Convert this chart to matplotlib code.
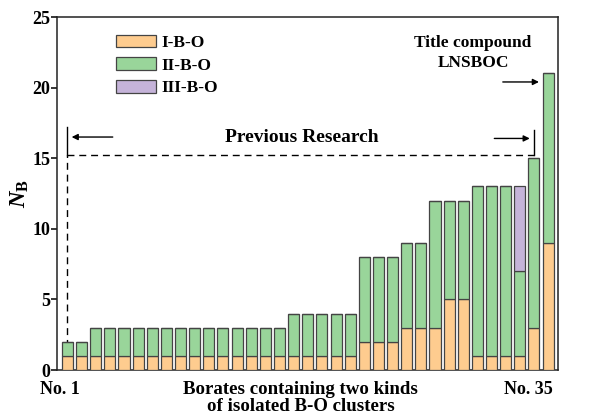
import matplotlib
matplotlib.use("Agg")
import matplotlib.pyplot as plt
import numpy as np

# ---- data ----
compound_no = list(range(1, 36))
nb_I = [1, 1] + [1] * 14 + [1] * 5 + [2] * 3 + [3, 3] + [3, 5, 5] + [1, 1, 1, 1] + [3] + [9]
nb_II = [1, 1] + [2] * 14 + [3] * 5 + [6] * 3 + [6, 6] + [9, 7, 7] + [12, 12, 12, 6] + [12] + [12]
nb_III = [0] * 32 + [6] + [0, 0]
y_ticks = [0, 5, 10, 15, 20, 25]
legend_labels = ["I-B-O", "II-B-O", "III-B-O"]

c_I = "#FECC8F"
c_II = "#99D59A"
c_III = "#C5B3D9"
edge = "#444444"

plt.rcParams["font.family"] = ["Liberation Serif", "DejaVu Serif"]
plt.rcParams["font.weight"] = "bold"
plt.rcParams["mathtext.fontset"] = "custom"
plt.rcParams["mathtext.rm"] = "Liberation Serif:bold"
plt.rcParams["mathtext.it"] = "Liberation Serif:italic:bold"
plt.rcParams["mathtext.bf"] = "Liberation Serif:bold"

fig = plt.figure(figsize=(5.95, 4.2), dpi=100)
ax = fig.add_axes([0.0958, 0.119, 0.842, 0.8405])

x = np.array(compound_no)
I = np.array(nb_I)
II = np.array(nb_II)
III = np.array(nb_III)
w = 0.78
ax.bar(x, I, width=w, color=c_I, edgecolor=edge, linewidth=0.9, label=legend_labels[0], zorder=3)
ax.bar(x, II, bottom=I, width=w, color=c_II, edgecolor=edge, linewidth=0.9, label=legend_labels[1], zorder=3)
ax.bar(x, III, bottom=I + II, width=w, color=c_III, edgecolor=edge, linewidth=0.9, label=legend_labels[2], zorder=3)

ax.set_xlim(0.26, 35.7)
ax.set_ylim(0, 25)
ax.set_yticks(y_ticks)
ax.set_xticks([])
ax.tick_params(axis="y", direction="out", length=4, width=1.1, labelsize=13, pad=1)
for lab in ax.get_yticklabels():
    lab.set_fontweight("bold")
for s in ax.spines.values():
    s.set_linewidth(1.1)
    s.set_color("#222222")

ax.set_ylabel(r"$\mathit{N}_\mathbf{B}$", fontsize=16.5, labelpad=1)

# annotations
yd = 15.2
dash = (0, (5, 3.5))
ax.plot([1, 1], [0, yd], ls=dash, color="black", lw=1.0, zorder=1)
ax.plot([1, 34], [yd, yd], ls=dash, color="black", lw=1.0, zorder=1)
ax.plot([1, 1], [yd, 17.2], color="black", lw=1.0)
ax.plot([34, 34], [yd, 17.0], color="black", lw=1.0)
ax.annotate("", xy=(1.1, 16.5), xytext=(4.4, 16.5),
            arrowprops=dict(arrowstyle="-|>", color="black", lw=1.0, mutation_scale=9))
ax.annotate("", xy=(33.9, 16.4), xytext=(31.0, 16.4),
            arrowprops=dict(arrowstyle="-|>", color="black", lw=1.0, mutation_scale=9))
ax.annotate("", xy=(34.55, 20.4), xytext=(31.6, 20.4),
            arrowprops=dict(arrowstyle="-|>", color="black", lw=1.0, mutation_scale=9))
ax.text(17.55, 16.45, "Previous Research", ha="center", va="center", fontsize=14, fontweight="bold")
ax.text(29.7, 22.45, "Title compound\nLNSBOC", ha="center", va="center", fontsize=12.5,
        fontweight="bold", linespacing=1.35)

# x labels
ax.text(0.45, -0.75, "No. 1", ha="center", va="top", fontsize=13, fontweight="bold")
ax.text(33.6, -0.75, "No. 35", ha="center", va="top", fontsize=13, fontweight="bold")
ax.text(17.5, -0.75, "Borates containing two kinds\nof isolated B-O clusters", ha="center", va="top",
        fontsize=13.6, fontweight="bold", linespacing=1.0)

ax.legend(loc="upper left", bbox_to_anchor=(0.118, 0.95), frameon=False,
          prop={"family": "Liberation Serif", "weight": "bold", "size": 12.5},
          handlelength=2.3, handleheight=0.75, labelspacing=0.36, handletextpad=0.3,
          borderpad=0, borderaxespad=0)

fig.savefig("out.png", dpi=100)
